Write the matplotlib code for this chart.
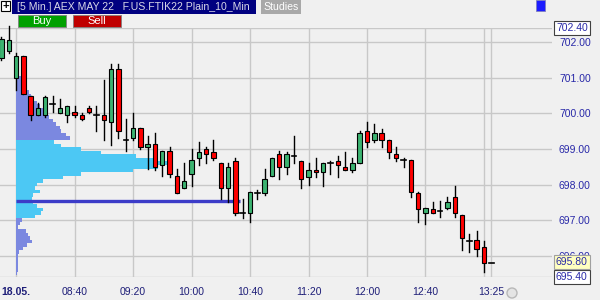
import matplotlib
matplotlib.use("Agg")
import matplotlib.pyplot as plt
from matplotlib.patches import Rectangle, Ellipse

plt.rcParams['font.family'] = ['Liberation Sans', 'DejaVu Sans']

# 5 min candles, index 0 = 08:00 (two pre-open bars at -2, -1)
opens = [701.55, 701.75, 701.00, 701.60, 700.50, 699.95, 699.95, 700.25, 700.00, 699.95,
         700.05, 699.95, 700.15, 699.95, 699.95, 699.75, 701.25, 699.25, 699.30, 699.60,
         699.05, 699.15, 698.55, 698.95, 698.25, 697.90, 698.30, 698.75, 699.00, 698.90,
         698.60, 697.90, 698.65, 697.20, 697.20, 697.75, 697.75, 698.25, 698.85, 698.50,
         698.80, 698.65, 698.20, 698.40, 698.35, 698.60, 698.65, 698.50, 698.40, 698.60,
         699.50, 699.25, 699.45, 699.25, 698.85, 698.70, 698.70, 697.75, 697.20, 697.30,
         697.25, 697.35, 697.65, 697.15, 696.40, 696.45, 696.25, 695.80]
highs = [702.15, 702.45, 701.70, 701.60, 700.50, 700.30, 700.50, 700.50, 700.40, 700.20,
         700.20, 700.00, 700.20, 700.20, 700.95, 701.40, 701.40, 699.85, 700.00, 699.60,
         699.35, 699.45, 698.95, 699.05, 698.45, 698.60, 699.00, 699.20, 699.05, 699.25,
         698.60, 698.60, 698.75, 697.60, 697.80, 697.85, 698.45, 698.75, 698.95, 698.90,
         699.35, 698.65, 698.60, 698.75, 698.60, 698.65, 698.80, 698.90, 698.75, 699.50,
         699.75, 699.70, 699.55, 699.25, 699.05, 698.75, 698.70, 697.80, 697.35, 697.50,
         697.55, 697.65, 697.95, 697.15, 696.60, 696.70, 696.40, 695.80]
lows = [701.50, 701.70, 700.65, 700.55, 699.80, 699.95, 699.90, 700.05, 700.00, 699.75,
        699.90, 699.80, 700.00, 699.50, 699.25, 699.10, 699.30, 698.95, 699.25, 699.00,
        698.45, 698.40, 698.25, 698.20, 697.75, 697.90, 697.95, 698.55, 698.60, 698.70,
        697.60, 697.50, 697.15, 697.05, 696.95, 697.60, 697.70, 698.25, 698.15, 698.30,
        698.60, 697.90, 698.00, 698.20, 697.95, 698.30, 698.20, 698.40, 698.35, 698.60,
        699.05, 699.20, 699.05, 698.75, 698.65, 698.50, 697.65, 696.95, 696.90, 697.20,
        697.10, 697.30, 697.10, 696.15, 696.10, 696.00, 695.55, 695.80]
closes = [702.10, 702.05, 701.60, 700.55, 699.95, 700.15, 700.45, 700.25, 700.15, 700.20,
          699.95, 699.85, 700.05, 699.95, 699.80, 701.25, 699.50, 699.25, 699.60, 699.05,
          699.15, 698.50, 698.95, 698.30, 697.75, 698.10, 698.70, 698.90, 698.85, 698.75,
          697.90, 698.50, 697.20, 697.20, 697.80, 697.75, 698.15, 698.75, 698.50, 698.85,
          698.80, 698.15, 698.40, 698.35, 698.60, 698.60, 698.55, 698.40, 698.60, 699.45,
          699.20, 699.45, 699.25, 698.90, 698.75, 698.70, 697.80, 697.30, 697.35, 697.20,
          697.25, 697.50, 697.20, 696.50, 696.40, 696.20, 695.80, 695.80]
first_idx = -2

# volume profile of the session
prof_price = [701.1, 701.0, 700.9, 700.8, 700.7, 700.6, 700.5, 700.4, 700.3, 700.2,
              700.1, 700.0, 699.9, 699.8, 699.7, 699.6, 699.5, 699.4, 699.3, 699.2,
              699.1, 699.0, 698.9, 698.8, 698.7, 698.6, 698.5, 698.4, 698.3, 698.2,
              698.1, 698.0, 697.9, 697.8, 697.7, 697.6, 697.5, 697.4, 697.3, 697.2,
              697.1, 697.0, 696.9, 696.8, 696.7, 696.6, 696.5, 696.4, 696.3, 696.2,
              696.1, 696.0, 695.9, 695.8, 695.7, 695.6, 695.5]
prof_vol = [3, 5, 7, 9, 11, 13, 15, 18, 21, 24,
            27, 31, 33, 37, 40, 44, 45, 50, 54, 38,
            45, 65, 85, 120, 140, 156, 142, 117, 65, 47,
            27, 21, 19, 24, 17, 16, 17, 21, 27, 25,
            19, 6, 4, 2, 10, 12, 14, 16, 11, 7,
            3, 2, 2, 2, 2, 2, 1]
va_high = 699.2
va_low = 697.1
poc_price = 697.55
poc_end = 30.6

time_ticks = [0, 8, 16, 24, 32, 40, 48, 56, 64, 65]
time_labels = ['18.05.', '08:40', '09:20', '10:00', '10:40', '11:20', '12:00', '12:40', '', '13:25']
price_ticks = [696, 697, 698, 699, 700, 701, 702]
y_min, y_max = 695.40, 702.40
last_price = 695.80

bg = '#f0f0f0'
green = '#3cb371'
red = '#ff0000'

fig = plt.figure(figsize=(6, 3), dpi=100)
fig.patch.set_facecolor(bg)
ax = fig.add_axes([0, 23 / 300, 552 / 600, 249 / 300])
ax.set_facecolor(bg)
ax.set_xlim(-2.19, 73.3)
ax.set_ylim(y_min, y_max)
for s in ax.spines.values():
    s.set_visible(False)

ax.set_xticks(time_ticks)
ax.set_xticklabels(time_labels)
ax.set_yticks(price_ticks)
ax.set_yticklabels(['%.2f' % p for p in price_ticks])
ax.tick_params(axis='x', length=0, pad=7, labelsize=7.5, labelcolor='#1e1e78')
ax.tick_params(axis='y', length=0, pad=5, labelsize=7.5, labelcolor='#2828a8',
               left=False, labelleft=False, right=True, labelright=True)
ax.get_xticklabels()[0].set_fontweight('bold')
ax.grid(True, color='#c8c8c8', linewidth=1)
ax.set_axisbelow(True)
ax.axhline(y_max, color='#c8c8c8', linewidth=1, zorder=0.5)
ax.axhline(y_min, color='#c8c8c8', linewidth=1, zorder=0.5)

# profile
prof_scale = 1 / 7.31
for p, v in zip(prof_price, prof_vol):
    col = '#4cc8f4' if va_low - 0.01 <= p <= va_high + 0.01 else '#7b88e0'
    ax.barh(p, v * prof_scale, height=0.1, left=0, color=col, linewidth=0, zorder=1)
ax.plot([0, poc_end], [poc_price, poc_price], color='#3c3cc8', linewidth=2.4,
        solid_capstyle='butt', zorder=2)

# candles
bw = 0.6
for k, (o, h, l, c) in enumerate(zip(opens, highs, lows, closes)):
    x = first_idx + k
    if h > l:
        ax.plot([x, x], [l, h], color='black', linewidth=1, zorder=3, clip_on=False)
    if abs(c - o) < 0.01:
        ax.plot([x - bw / 2, x + bw / 2], [o, o], color='black', linewidth=1.2, zorder=4,
                clip_on=False)
    else:
        ax.add_patch(Rectangle((x - bw / 2, min(o, c)), bw, abs(c - o),
                               facecolor=green if c > o else red, edgecolor='black',
                               linewidth=0.8, zorder=4, clip_on=False))

# header bar
def px(x, y):
    return x / 600, 1 - y / 300

fig.patches.append(Rectangle(px(12, 14), 244 / 600, 14 / 300, transform=fig.transFigure,
                             facecolor='#000080', edgecolor='none'))
fig.patches.append(Rectangle(px(1, 11), 9 / 600, 10 / 300, transform=fig.transFigure,
                             facecolor='white', edgecolor='black', linewidth=0.8))
fig.text(*px(5.5, 6.5), '+', ha='center', va='center', fontsize=8, fontweight='bold')
fig.text(*px(17, 7.5), '[5 Min.] AEX MAY 22   F.US.FTIK22 Plain_10_Min', color='#d8d8e8',
         fontsize=7.6, va='center', ha='left')
fig.patches.append(Rectangle(px(261, 14), 40 / 600, 14 / 300, transform=fig.transFigure,
                             facecolor='#a8a8a8', edgecolor='none'))
fig.text(*px(281, 7.5), 'Studies', color='white', fontsize=7.6, va='center', ha='center')
fig.patches.append(Rectangle(px(18, 27), 48 / 600, 12 / 300, transform=fig.transFigure,
                             facecolor='#00a000', edgecolor='#808080', linewidth=0.6))
fig.text(*px(42, 21), 'Buy', color='white', fontsize=8, va='center', ha='center')
fig.patches.append(Rectangle(px(73, 27), 48 / 600, 12 / 300, transform=fig.transFigure,
                             facecolor='#c00000', edgecolor='#808080', linewidth=0.6))
fig.text(*px(97, 21), 'Sell', color='white', fontsize=8, va='center', ha='center')
fig.patches.append(Rectangle(px(536, 11), 9 / 600, 11 / 300, transform=fig.transFigure,
                             facecolor='#1c1cff', edgecolor='#8080c0', linewidth=0.6))

# little clock icon next to the last time label
fig.patches.append(Ellipse(px(512, 293), 10 / 600, 10 / 300, transform=fig.transFigure,
                           facecolor='#e4e4e4', edgecolor='#b8b8b8', linewidth=1))

# price boxes
box = dict(boxstyle='square,pad=0.2', facecolor='white', edgecolor='#404040', linewidth=0.8)
fig.text(*px(556, 28), '%.2f' % y_max, color='#2828a8', fontsize=7.5, va='center',
         ha='left', bbox=box)
fig.text(*px(556, 277), '%.2f' % y_min, color='#2828a8', fontsize=7.5, va='center',
         ha='left', bbox=box)
fig.text(*px(556, 262), '%.2f' % last_price, color='#2828a8', fontsize=7.5, va='center',
         ha='left', bbox=dict(boxstyle='square,pad=0.2', facecolor='#ffffc0',
                              edgecolor='#a0a0a0', linewidth=0.8))

fig.savefig('out.png', dpi=100, facecolor=bg)
